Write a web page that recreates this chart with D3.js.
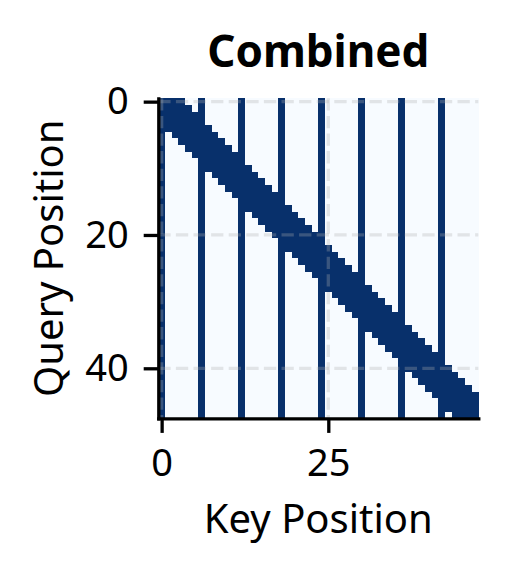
<!DOCTYPE html>
<html>
<head>
<meta charset="utf-8">
<script src="https://d3js.org/d3.v7.min.js"></script>
<style>
  body { margin: 0; background: white; }
  svg text { font-family: "Noto Sans", "DejaVu Sans", sans-serif; }
</style>
</head>
<body>
<svg id="chart" width="508" height="574"></svg>
<script>
// attention mask, one string per query row (groups of 6 keys)
var maskRows = [
  "111100 100000 100000 100000 100000 100000 100000 100000",
  "111110 100000 100000 100000 100000 100000 100000 100000",
  "111111 100000 100000 100000 100000 100000 100000 100000",
  "111111 100000 100000 100000 100000 100000 100000 100000",
  "111111 110000 100000 100000 100000 100000 100000 100000",
  "101111 111000 100000 100000 100000 100000 100000 100000",
  "100111 111100 100000 100000 100000 100000 100000 100000",
  "100011 111110 100000 100000 100000 100000 100000 100000",
  "100001 111111 100000 100000 100000 100000 100000 100000",
  "100000 111111 100000 100000 100000 100000 100000 100000",
  "100000 111111 110000 100000 100000 100000 100000 100000",
  "100000 101111 111000 100000 100000 100000 100000 100000",
  "100000 100111 111100 100000 100000 100000 100000 100000",
  "100000 100011 111110 100000 100000 100000 100000 100000",
  "100000 100001 111111 100000 100000 100000 100000 100000",
  "100000 100000 111111 100000 100000 100000 100000 100000",
  "100000 100000 111111 110000 100000 100000 100000 100000",
  "100000 100000 101111 111000 100000 100000 100000 100000",
  "100000 100000 100111 111100 100000 100000 100000 100000",
  "100000 100000 100011 111110 100000 100000 100000 100000",
  "100000 100000 100001 111111 100000 100000 100000 100000",
  "100000 100000 100000 111111 100000 100000 100000 100000",
  "100000 100000 100000 111111 110000 100000 100000 100000",
  "100000 100000 100000 101111 111000 100000 100000 100000",
  "100000 100000 100000 100111 111100 100000 100000 100000",
  "100000 100000 100000 100011 111110 100000 100000 100000",
  "100000 100000 100000 100001 111111 100000 100000 100000",
  "100000 100000 100000 100000 111111 100000 100000 100000",
  "100000 100000 100000 100000 111111 110000 100000 100000",
  "100000 100000 100000 100000 101111 111000 100000 100000",
  "100000 100000 100000 100000 100111 111100 100000 100000",
  "100000 100000 100000 100000 100011 111110 100000 100000",
  "100000 100000 100000 100000 100001 111111 100000 100000",
  "100000 100000 100000 100000 100000 111111 100000 100000",
  "100000 100000 100000 100000 100000 111111 110000 100000",
  "100000 100000 100000 100000 100000 101111 111000 100000",
  "100000 100000 100000 100000 100000 100111 111100 100000",
  "100000 100000 100000 100000 100000 100011 111110 100000",
  "100000 100000 100000 100000 100000 100001 111111 100000",
  "100000 100000 100000 100000 100000 100000 111111 100000",
  "100000 100000 100000 100000 100000 100000 111111 110000",
  "100000 100000 100000 100000 100000 100000 101111 111000",
  "100000 100000 100000 100000 100000 100000 100111 111100",
  "100000 100000 100000 100000 100000 100000 100011 111110",
  "100000 100000 100000 100000 100000 100000 100001 111111",
  "100000 100000 100000 100000 100000 100000 100000 111111",
  "100000 100000 100000 100000 100000 100000 100000 111111",
  "100000 100000 100000 100000 100000 100000 100000 101111"
];
var xTicks = [0, 25];
var yTicks = [0, 20, 40];
var title = "Combined";
var xLabel = "Key Position";
var yLabel = "Query Position";

var nQ = maskRows.length, nK = 48;
var plotLeft = 158.3, plotTop = 98.3, side = 320;

var cells = [];
maskRows.forEach(function(row, q) {
  row.replace(/ /g, "").split("").forEach(function(c, k) {
    cells.push({q: q, k: k, v: +c});
  });
});

var svg = d3.select("#chart");
var x = d3.scaleLinear().domain([-0.5, nK - 0.5]).range([plotLeft, plotLeft + side]);
var y = d3.scaleLinear().domain([-0.5, nQ - 0.5]).range([plotTop, plotTop + side]);
var color = d3.scaleSequential(d3.interpolateBlues).domain([0, 1]);

svg.append("g")
  .attr("shape-rendering", "crispEdges")
  .selectAll("rect")
  .data(cells)
  .enter()
  .append("rect")
  .attr("x", function(d) { return x(d.k - 0.5); })
  .attr("y", function(d) { return y(d.q - 0.5); })
  .attr("width", x(1) - x(0) + 0.4)
  .attr("height", y(1) - y(0) + 0.4)
  .attr("fill", function(d) { return color(d.v); });

// dashed grid on top of the image
var grid = svg.append("g")
  .attr("stroke", "#b0b0b0")
  .attr("stroke-opacity", 0.3)
  .attr("stroke-width", 3.3)
  .attr("stroke-dasharray", "12.3,5.3");
grid.selectAll(".gx").data(xTicks).enter().append("line")
  .attr("x1", function(d) { return x(d); }).attr("x2", function(d) { return x(d); })
  .attr("y1", plotTop).attr("y2", plotTop + side);
grid.selectAll(".gy").data(yTicks).enter().append("line")
  .attr("y1", function(d) { return y(d); }).attr("y2", function(d) { return y(d); })
  .attr("x1", plotLeft).attr("x2", plotLeft + side);

var xAxis = svg.append("g")
  .attr("transform", "translate(0," + (plotTop + side) + ")")
  .call(d3.axisBottom(x).tickValues(xTicks).tickSize(14.6).tickSizeOuter(0).tickPadding(16));
var yAxis = svg.append("g")
  .attr("transform", "translate(" + plotLeft + ",0)")
  .call(d3.axisLeft(y).tickValues(yTicks).tickSize(14.6).tickSizeOuter(0).tickPadding(15));

[xAxis, yAxis].forEach(function(ax) {
  ax.select(".domain").attr("stroke", "black").attr("stroke-width", 3.3).attr("stroke-linecap", "square");
  ax.selectAll(".tick line").attr("stroke", "black").attr("stroke-width", 3.3);
  ax.selectAll(".tick text")
    .attr("fill", "black")
    .style("font-size", "38px")
    .style("font-family", "'Noto Sans', sans-serif");
});

svg.append("text")
  .attr("x", plotLeft + side / 2).attr("y", 66.7)
  .attr("text-anchor", "middle")
  .style("font-size", "44px").style("font-weight", "bold")
  .text(title);

svg.append("text")
  .attr("x", plotLeft + side / 2).attr("y", 533)
  .attr("text-anchor", "middle")
  .style("font-size", "40px")
  .text(xLabel);

svg.append("text")
  .attr("transform", "translate(63," + (plotTop + side / 2) + ") rotate(-90)")
  .attr("text-anchor", "middle")
  .style("font-size", "40px")
  .text(yLabel);
</script>
</body>
</html>
